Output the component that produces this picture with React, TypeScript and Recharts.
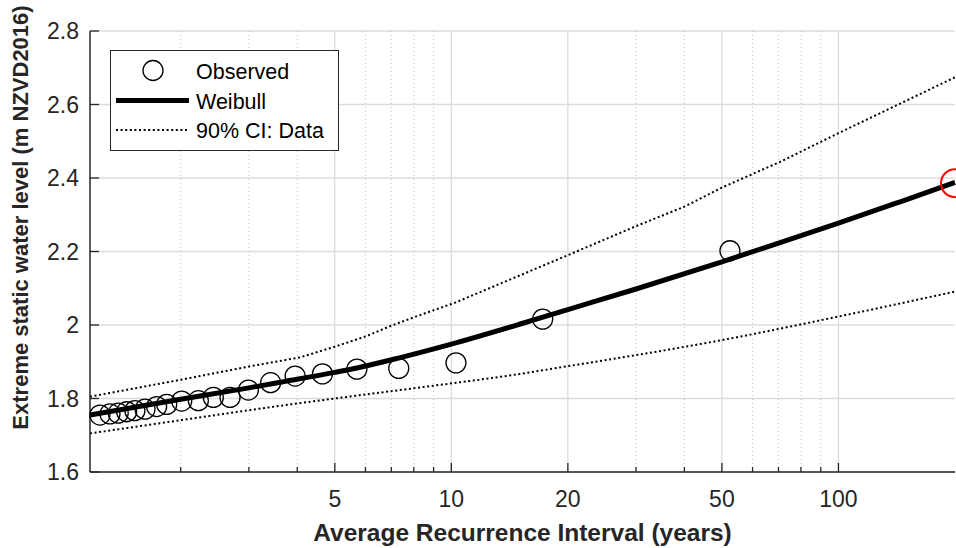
import { CartesianGrid, ComposedChart, Line, ReferenceLine, Scatter, XAxis, YAxis } from 'recharts'

// observed annual maxima (plotting position return period, level)
const observedT = [1.237, 1.313, 1.379, 1.45, 1.523, 1.617, 1.733, 1.84, 2.012, 2.221, 2.428, 2.682, 2.991, 3.414, 3.95, 4.647, 5.703, 7.315, 10.28, 17.22, 52.44]
const observedLevel = [1.755, 1.758, 1.76, 1.764, 1.767, 1.771, 1.778, 1.784, 1.793, 1.794, 1.803, 1.803, 1.823, 1.843, 1.861, 1.867, 1.88, 1.882, 1.897, 2.016, 2.202]

// fitted Weibull curve
const weibullT = [1.166, 2, 3, 3.7, 5, 5.7, 7.3, 10, 15, 20, 30, 50, 71, 100, 145, 200]
const weibullLevel = [1.755, 1.798, 1.829, 1.846, 1.871, 1.883, 1.91, 1.948, 2.002, 2.042, 2.098, 2.172, 2.225, 2.277, 2.336, 2.388]

// 90% confidence bounds
const upperT = [1.166, 2, 3, 4.07, 5, 6.05, 6.95, 8.3, 10.24, 20, 30, 40, 50, 70.7, 100, 200]
const upperLevel = [1.805, 1.851, 1.887, 1.912, 1.941, 1.97, 1.997, 2.027, 2.061, 2.19, 2.269, 2.322, 2.374, 2.444, 2.522, 2.674]
const lowerT = [1.166, 2, 3.72, 5, 11.2, 13.4, 20, 30, 50, 100, 200]
const lowerLevel = [1.705, 1.741, 1.782, 1.8, 1.848, 1.859, 1.888, 1.918, 1.959, 2.023, 2.091]

// highlighted design level
const designT = [200]
const designLevel = [2.386]

const majorTicksX = [5, 10, 20, 50, 100]
const minorTicksX = [2, 3, 4, 6, 7, 8, 9, 30, 40, 60, 70, 80, 90]
const yTicks = [1.6, 1.8, 2, 2.2, 2.4, 2.6, 2.8]
const xDomain = [1.166, 200]
const yDomain = [1.6, 2.8]

const toPoints = (t: number[], v: number[]) => t.map((x, i) => ({ t: x, v: v[i] }))
const observed = toPoints(observedT, observedLevel)
const weibull = toPoints(weibullT, weibullLevel)
const upper = toPoints(upperT, upperLevel)
const lower = toPoints(lowerT, lowerLevel)
const design = toPoints(designT, designLevel)

const allTicksX = [...minorTicksX, ...majorTicksX].sort((a, b) => a - b)
const AXIS = '#262626'
const FONT = '"Liberation Sans", Arial, Helvetica, sans-serif'

function BottomTick(props: any) {
  const { x, y, payload } = props
  const major = majorTicksX.includes(payload.value)
  return (
    <g>
      <line x1={x} x2={x} y1={y} y2={y - (major ? 9 : 5)} stroke={AXIS} strokeWidth={1.3} />
      {major && (
        <text x={x} y={y + 35} textAnchor="middle" fontSize={23} fill={AXIS} fontFamily={FONT}>
          {payload.value}
        </text>
      )}
    </g>
  )
}

function TopTick(props: any) {
  const { x, y, payload } = props
  const major = majorTicksX.includes(payload.value)
  return <line x1={x} x2={x} y1={y} y2={y + (major ? 9 : 5)} stroke={AXIS} strokeWidth={1.3} />
}

function LeftTick(props: any) {
  const { x, y, payload } = props
  return (
    <g>
      <line x1={x} x2={x + 9} y1={y} y2={y} stroke={AXIS} strokeWidth={1.3} />
      <text x={x - 11} y={y + 8} textAnchor="end" fontSize={23} fill={AXIS} fontFamily={FONT}>
        {payload.value}
      </text>
    </g>
  )
}

function RightTick(props: any) {
  const { x, y } = props
  return <line x1={x} x2={x - 9} y1={y} y2={y} stroke={AXIS} strokeWidth={1.3} />
}

function Circle(props: any) {
  return <circle cx={props.cx} cy={props.cy} r={10} fill="none" stroke="#000" strokeWidth={1.3} />
}

function RedCircle(props: any) {
  return <circle cx={props.cx} cy={props.cy} r={14} fill="none" stroke="#ff0000" strokeWidth={2} />
}

function LegendBox() {
  return (
    <svg width={230} height={102} style={{ position: 'absolute', left: 110, top: 50 }}>
      <rect x={0.5} y={0.5} width={228} height={100} fill="#fff" stroke={AXIS} strokeWidth={1} />
      <circle cx={43} cy={20.5} r={10} fill="none" stroke="#000" strokeWidth={1.3} />
      <text x={86} y={28.5} fontSize={21.5} fill="#000" fontFamily={FONT}>Observed</text>
      <line x1={6} x2={79} y1={50.5} y2={50.5} stroke="#000" strokeWidth={5} />
      <text x={86} y={58.5} fontSize={21.5} fill="#000" fontFamily={FONT}>Weibull</text>
      <line x1={6} x2={79} y1={80} y2={80} stroke="#000" strokeWidth={2} strokeDasharray="2 2.6" />
      <text x={86} y={88} fontSize={21.5} fill="#000" fontFamily={FONT}>90% CI: Data</text>
    </svg>
  )
}

export default function App() {
  return (
    <div style={{ position: 'absolute', left: 0, top: 0, width: 956, height: 548, background: '#fff', fontFamily: FONT }}>
      <ComposedChart width={956} height={548} margin={{ top: 31, right: 1, bottom: 0, left: 0 }}>
        <CartesianGrid vertical={false} stroke="#dcdcdc" strokeWidth={1.3} />
        {minorTicksX.map((v) => (
          <ReferenceLine key={'m' + v} x={v} stroke="#c4c4c4" strokeWidth={1} strokeDasharray="1 3" />
        ))}
        {majorTicksX.map((v) => (
          <ReferenceLine key={'M' + v} x={v} stroke="#dcdcdc" strokeWidth={1.3} />
        ))}
        <XAxis
          dataKey="t"
          type="number"
          scale="log"
          domain={xDomain}
          ticks={allTicksX}
          interval={0}
          height={76}
          tickSize={0}
          tickMargin={0}
          tickLine={false}
          axisLine={{ stroke: AXIS, strokeWidth: 1.5 }}
          tick={BottomTick}
          label={{
            content: (p: any) => (
              <text
                x={p.viewBox.x + p.viewBox.width / 2}
                y={541}
                textAnchor="middle"
                fontSize={24.5}
                fontWeight="bold"
                fill={AXIS}
                fontFamily={FONT}
              >
                Average Recurrence Interval (years)
              </text>
            ),
          }}
        />
        <XAxis
          xAxisId="top"
          orientation="top"
          dataKey="t"
          type="number"
          scale="log"
          domain={xDomain}
          ticks={allTicksX}
          interval={0}
          height={0}
          tickSize={0}
          tickMargin={0}
          tickLine={false}
          axisLine={{ stroke: AXIS, strokeWidth: 1.5 }}
          tick={TopTick}
        />
        <YAxis
          dataKey="v"
          type="number"
          domain={yDomain}
          ticks={yTicks}
          interval={0}
          width={90}
          tickSize={0}
          tickMargin={0}
          tickLine={false}
          axisLine={{ stroke: AXIS, strokeWidth: 1.5 }}
          tick={LeftTick}
          label={{
            content: () => (
              <text
                x={27.5}
                y={217.5}
                transform="rotate(-90 27.5 217.5)"
                textAnchor="middle"
                fontSize={22}
                fontWeight="bold"
                fill={AXIS}
                fontFamily={FONT}
              >
                Extreme static water level (m NZVD2016)
              </text>
            ),
          }}
        />
        <YAxis
          yAxisId="r"
          orientation="right"
          type="number"
          domain={yDomain}
          ticks={yTicks}
          interval={0}
          width={0}
          tickSize={0}
          tickMargin={0}
          tickLine={false}
          axisLine={{ stroke: AXIS, strokeWidth: 1.5 }}
          tick={RightTick}
        />
        <Line data={upper} dataKey="v" type="linear" stroke="#000" strokeWidth={2} strokeDasharray="2 2.6" dot={false} isAnimationActive={false} />
        <Line data={lower} dataKey="v" type="monotone" stroke="#000" strokeWidth={2} strokeDasharray="2 2.6" dot={false} isAnimationActive={false} />
        <Scatter data={observed} dataKey="v" shape={Circle} isAnimationActive={false} />
        <Line data={weibull} dataKey="v" type="monotone" stroke="#000" strokeWidth={5} dot={false} isAnimationActive={false} />
        <Scatter data={design} dataKey="v" shape={RedCircle} isAnimationActive={false} />
      </ComposedChart>
      <LegendBox />
    </div>
  )
}
